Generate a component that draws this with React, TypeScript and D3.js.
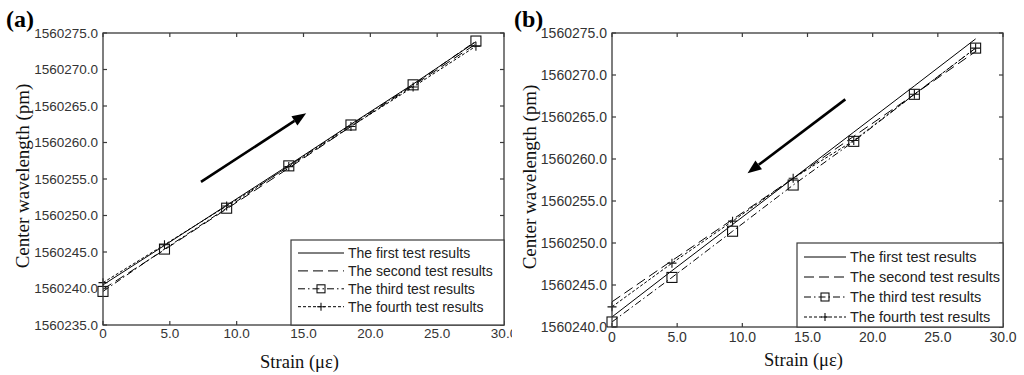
import * as d3 from "d3";

// strain values (µε) where each test was sampled
const strain = [0, 4.6, 9.25, 13.9, 18.55, 23.2, 27.9];

// panel (a): loading
const firstA = [1560240.5, 1560245.9, 1560251.4, 1560256.9, 1560262.5, 1560268.0, 1560273.8];
const secondA = [1560239.9, 1560245.3, 1560250.9, 1560256.5, 1560262.2, 1560267.8, 1560273.5];
const thirdA = [1560239.6, 1560245.4, 1560251.0, 1560256.8, 1560262.4, 1560267.9, 1560273.9];
const fourthA = [1560240.8, 1560246.0, 1560251.3, 1560256.7, 1560262.2, 1560267.6, 1560273.2];

// panel (b): unloading
const firstB = [1560241.2, 1560246.7, 1560252.2, 1560257.7, 1560263.2, 1560268.7, 1560274.3];
const secondB = [1560243.0, 1560247.9, 1560252.8, 1560257.7, 1560262.7, 1560267.7, 1560272.8];
const thirdB = [1560240.6, 1560245.9, 1560251.4, 1560256.9, 1560262.1, 1560267.7, 1560273.2];
const fourthB = [1560242.4, 1560247.6, 1560252.6, 1560257.7, 1560262.2, 1560267.7, 1560273.2];

const xTicks = [0, 5, 10, 15, 20, 25, 30];
const yTicksA = [1560235, 1560240, 1560245, 1560250, 1560255, 1560260, 1560265, 1560270, 1560275];
const yTicksB = [1560240, 1560245, 1560250, 1560255, 1560260, 1560265, 1560270, 1560275];

const legendLabels = [
  "The first test results",
  "The second test results",
  "The third test results",
  "The fourth test results",
];

// arrows [x0, y0, x1, y1] in data units
const arrowA = [7.33, 1560254.6, 15.2, 1560264.0];
const arrowB = [17.9, 1560267.1, 10.4, 1560258.3];

const dashes = [null, "10,5", "7,3,1.5,3", "3,2"];
const markers = [null, null, "square", "plus"];

const SANS = "'Liberation Sans', Arial, sans-serif";
const SERIF = "'Liberation Serif', 'Times New Roman', serif";
const AXIS = "#3a3a3a";

const Marker = ({ kind, cx, cy, s }) => {
  if (kind === "square")
    return <rect x={cx - s / 2} y={cy - s / 2} width={s} height={s} fill="none" stroke="#111" strokeWidth={1.1} />;
  if (kind === "plus")
    return (
      <path
        d={`M${cx - s / 2},${cy}H${cx + s / 2}M${cx},${cy - s / 2}V${cy + s / 2}`}
        stroke="#111"
        strokeWidth={1.1}
      />
    );
  return null;
};

const Panel = ({ id, letter, letterX, box, yTicks, series, arrow, legend, fs, xLabelY, xTickY, yLabelX, clipW }) => {
  const x = d3.scaleLinear().domain([0, 30]).range([box.left, box.right]);
  const y = d3
    .scaleLinear()
    .domain([yTicks[0], yTicks[yTicks.length - 1]])
    .range([box.bottom, box.top]);
  const line = d3
    .line<number>()
    .x((_, i) => x(strain[i]))
    .y((d) => y(d));

  const [ax0, ay0, ax1, ay1] = arrow;
  const p0 = [x(ax0), y(ay0)];
  const p1 = [x(ax1), y(ay1)];
  const ang = Math.atan2(p1[1] - p0[1], p1[0] - p0[0]);
  const hl = 14;
  const hw = 5.5;
  const bx = p1[0] - hl * Math.cos(ang);
  const by = p1[1] - hl * Math.sin(ang);
  const head = `M${p1[0]},${p1[1]}L${bx + hw * Math.sin(ang)},${by - hw * Math.cos(ang)}L${bx - hw * Math.sin(ang)},${by + hw * Math.cos(ang)}Z`;

  const tl = 4;
  const midY = (box.top + box.bottom) / 2;

  return (
    <g clipPath={clipW ? `url(#clip-${id})` : undefined}>
      {clipW ? (
        <defs>
          <clipPath id={`clip-${id}`}>
            <rect x={0} y={0} width={clipW} height={375} />
          </clipPath>
        </defs>
      ) : null}
      <text x={letterX} y={27} fontFamily={SERIF} fontWeight="bold" fontSize={24} fill="#000">
        {letter}
      </text>

      {/* series */}
      {series.map((vals, k) => (
        <path
          key={k}
          d={line(vals)}
          fill="none"
          stroke="#000"
          strokeWidth={1}
          strokeDasharray={dashes[k] || undefined}
        />
      ))}
      {series.map((vals, k) =>
        markers[k]
          ? vals.map((v, i) => <Marker key={`${k}-${i}`} kind={markers[k]} cx={x(strain[i])} cy={y(v)} s={k === 2 ? 10 : 9} />)
          : null
      )}

      {/* arrow */}
      <line x1={p0[0]} y1={p0[1]} x2={bx} y2={by} stroke="#000" strokeWidth={2.6} />
      <path d={head} fill="#000" />

      {/* frame */}
      <rect
        x={box.left}
        y={box.top}
        width={box.right - box.left}
        height={box.bottom - box.top}
        fill="none"
        stroke={AXIS}
        strokeWidth={1.3}
      />
      {xTicks.map((t) => (
        <g key={`xt${t}`}>
          <line x1={x(t)} x2={x(t)} y1={box.bottom} y2={box.bottom - tl} stroke={AXIS} strokeWidth={1.2} />
          <line x1={x(t)} x2={x(t)} y1={box.top} y2={box.top + tl} stroke={AXIS} strokeWidth={1.2} />
          <text x={x(t)} y={xTickY} textAnchor="middle" fontFamily={SANS} fontSize={fs} fill="#333">
            {t === 0 ? "0" : t.toFixed(1)}
          </text>
        </g>
      ))}
      {yTicks.map((t) => (
        <g key={`yt${t}`}>
          <line x1={box.left} x2={box.left + tl} y1={y(t)} y2={y(t)} stroke={AXIS} strokeWidth={1.2} />
          <line x1={box.right} x2={box.right - tl} y1={y(t)} y2={y(t)} stroke={AXIS} strokeWidth={1.2} />
          <text
            x={box.left - 5}
            y={y(t)}
            dy="0.36em"
            textAnchor="end"
            fontFamily={SANS}
            fontSize={fs}
            fill="#333"
          >
            {t.toFixed(1)}
          </text>
        </g>
      ))}

      <text
        transform={`translate(${yLabelX},${midY - 3}) rotate(-90)`}
        textAnchor="middle"
        fontFamily={SERIF}
        fontSize={19}
        fill="#111"
      >
        Center wavelength (pm)
      </text>
      <text
        x={(box.left + box.right) / 2 - 4}
        y={xLabelY}
        textAnchor="middle"
        fontFamily={SERIF}
        fontSize={18.5}
        fill="#111"
      >
        Strain (με)
      </text>

      {/* legend */}
      <rect
        x={legend.left}
        y={legend.top}
        width={box.right - legend.left}
        height={box.bottom - legend.top}
        fill="#fff"
        stroke={AXIS}
        strokeWidth={1.2}
      />
      {legendLabels.map((lab, k) => {
        const ry = legend.row0 + k * legend.step;
        const sx0 = legend.left + 7;
        const sx1 = legend.textX - 4;
        return (
          <g key={lab}>
            <line
              x1={sx0}
              x2={sx1}
              y1={ry}
              y2={ry}
              stroke="#000"
              strokeWidth={1}
              strokeDasharray={dashes[k] || undefined}
            />
            {markers[k] ? <Marker kind={markers[k]} cx={(sx0 + sx1) / 2} cy={ry} s={8} /> : null}
            <text x={legend.textX} y={ry} dy="0.36em" fontFamily={SANS} fontSize={legend.fs} fill="#222">
              {lab}
            </text>
          </g>
        );
      })}
    </g>
  );
};

export default function App() {
  return (
    <svg
      width={1024}
      height={375}
      style={{ position: "absolute", left: 0, top: 0, background: "#fff" }}
    >
      <Panel
        id="a"
        letter="(a)"
        letterX={6}
        box={{ left: 103, right: 504, top: 33, bottom: 325 }}
        yTicks={yTicksA}
        series={[firstA, secondA, thirdA, fourthA]}
        arrow={arrowA}
        legend={{ left: 291, top: 240, row0: 253, step: 17.9, textX: 348, fs: 14 }}
        fs={13.5}
        xTickY={338}
        xLabelY={368}
        yLabelX={29}
        clipW={512}
      />
      <Panel
        id="b"
        letter="(b)"
        letterX={514}
        box={{ left: 612, right: 1003, top: 33, bottom: 327 }}
        yTicks={yTicksB}
        series={[firstB, secondB, thirdB, fourthB]}
        arrow={arrowB}
        legend={{ left: 797, top: 243, row0: 257, step: 20, textX: 850, fs: 14.5 }}
        fs={14}
        xTickY={342}
        xLabelY={366}
        yLabelX={536}
        clipW={0}
      />
    </svg>
  );
}
